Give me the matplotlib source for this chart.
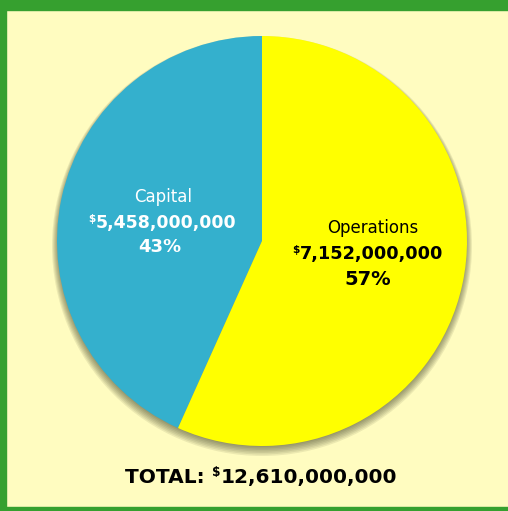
import matplotlib.pyplot as plt
from matplotlib.patches import Ellipse, Rectangle

# budget split
labels = ['Capital', 'Operations']
amounts = [5458000000, 7152000000]
percents = ['43%', '57%']
colors = ['#34b0cd', '#ffff00']
text_colors = ['white', 'black']
total = 12610000000

W, H = 508, 511
fig = plt.figure(figsize=(W / 100, H / 100), dpi=100)
fig.patch.set_facecolor('#fffcc0')
ax = fig.add_axes([0, 0, 1, 1])

# green frame (top, left, bottom)
green = '#36a02f'
ax.add_patch(Rectangle((0, H - 10), W, 10, color=green, zorder=10))
ax.add_patch(Rectangle((0, 0), 6, H, color=green, zorder=10))
ax.add_patch(Rectangle((0, 0), W, 4, color=green, zorder=10))

cx, cy, r = 262, 270, 205

# soft drop shadow, heavier toward the bottom
for i in range(7):
    ax.add_patch(Ellipse((cx, cy - 5 + i * 0.5), 2 * (r + 5 - i), 2 * (r + 5 - i),
                         color='#2e2e18', alpha=0.09, lw=0, zorder=1))

ax.pie(amounts, colors=colors, startangle=90, counterclock=True,
       center=(cx, cy), radius=r, frame=True,
       wedgeprops=dict(linewidth=0, zorder=2))
ax.set_xlim(0, W)
ax.set_ylim(0, H)
ax.axis('off')

font = 'DejaVu Sans'
renderer = fig.canvas.get_renderer()


def money(x, y, value, color, size, weight='bold'):
    # dollar amount with a small raised $ sign, centred on x
    sign = ax.text(0, y, '$', color=color, fontsize=size * 0.6, family=font,
                   fontweight=weight, ha='left', va='baseline', zorder=5)
    num = ax.text(0, y, value, color=color, fontsize=size, family=font,
                  fontweight=weight, ha='left', va='baseline', zorder=5)
    ws = sign.get_window_extent(renderer).width
    wn = num.get_window_extent(renderer).width
    left = x - (ws + wn) / 2
    sign.set_position((left, y + size * 0.45))
    num.set_position((left + ws, y))
    return sign, num


# Capital label
ax.text(163, H - 197, labels[0], ha='center', va='center', color=text_colors[0],
        fontsize=12, family=font, zorder=5)
money(162, H - 228, f'{amounts[0]:,}', text_colors[0], 12.5)
ax.text(160, H - 247, percents[0], ha='center', va='center', color=text_colors[0],
        fontsize=13, family=font, fontweight='heavy', zorder=5)

# Operations label
ax.text(373, H - 228, labels[1], ha='center', va='center', color=text_colors[1],
        fontsize=12, family=font, zorder=5)
money(368, H - 259, f'{amounts[1]:,}', text_colors[1], 12.8)
ax.text(368, H - 279, percents[1], ha='center', va='center', color=text_colors[1],
        fontsize=14, family=font, fontweight='heavy', zorder=5)

# total line
tot_y = H - 483
size = 14.5
head = ax.text(0, tot_y, 'TOTAL: ', color='black', fontsize=size, family=font,
               fontweight='heavy', ha='left', va='baseline', zorder=5)
wh = head.get_window_extent(renderer).width
s, n = money(0, tot_y, f'{total:,}', 'black', size, weight='heavy')
ws = s.get_window_extent(renderer).width
wn = n.get_window_extent(renderer).width
left = 261 - (wh + ws + wn) / 2
head.set_position((left, tot_y))
s.set_position((left + wh, tot_y + size * 0.45))
n.set_position((left + wh + ws, tot_y))

fig.savefig('out.png', dpi=100, facecolor=fig.get_facecolor())
